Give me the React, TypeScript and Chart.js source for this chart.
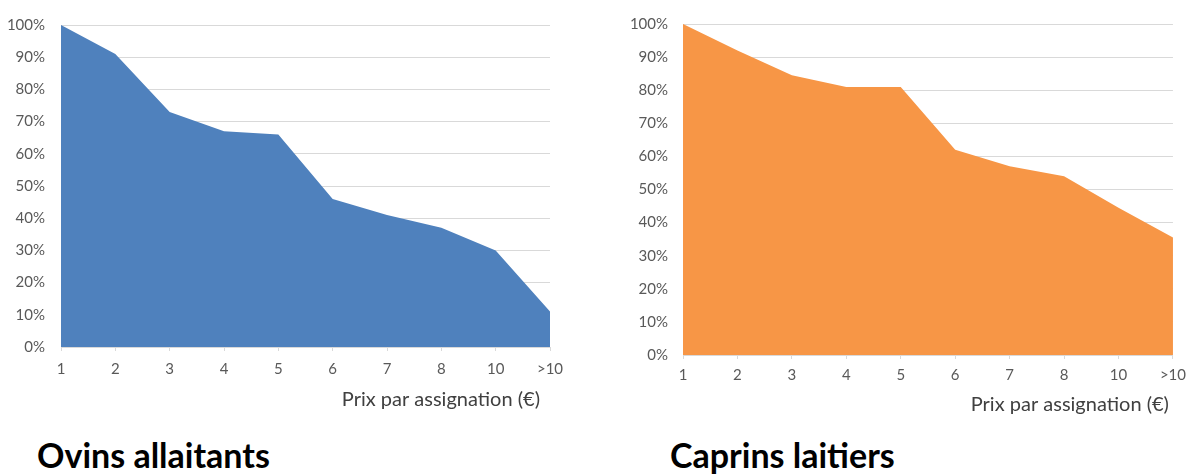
import React, { useEffect, useRef } from 'react';
import { Chart, registerables } from 'chart.js';

Chart.register(...registerables);

const priceLabels = ['1', '2', '3', '4', '5', '6', '7', '8', '10', '>10'];
const ovinsValues = [100, 91, 73, 67, 66, 46, 41, 37, 30, 11];
const caprinsValues = [100, 92, 84.5, 81, 81, 62, 57, 54, 44.5, 35.5];
const axisTitleText = 'Prix par assignation (€)';
const ovinsTitle = 'Ovins allaitants';
const caprinsTitle = 'Caprins laitiers';

const FONT = 'Lato, "Open Sans", sans-serif';

type Layout = {
  left: number;
  width: number;
  height: number;
  padTop: number;
  padRight: number;
  yWidth: number;
  yLabelPad: number;
  xHeight: number;
  xLabelPad: number;
  xTitlePad: number;
  titleShift: number;
};

function AreaChart({ values, color, layout }: { values: number[]; color: string; layout: Layout }) {
  const ref = useRef<HTMLCanvasElement | null>(null);
  useEffect(() => {
    if (!ref.current) return;
    const chart = new Chart(ref.current, {
      type: 'line',
      data: {
        labels: priceLabels,
        datasets: [
          {
            data: values,
            backgroundColor: color,
            borderColor: color,
            borderWidth: 0,
            pointRadius: 0,
            fill: 'origin',
            tension: 0,
          },
        ],
      },
      options: {
        animation: false,
        responsive: false,
        maintainAspectRatio: false,
        layout: { padding: { top: layout.padTop, right: layout.padRight, left: 0, bottom: 0 } },
        plugins: { legend: { display: false }, tooltip: { enabled: false }, title: { display: false } },
        scales: {
          x: {
            offset: false,
            grid: { drawOnChartArea: false, drawTicks: true, tickLength: 4, color: '#D9D9D9' },
            border: { display: true, color: '#D9D9D9' },
            ticks: { color: '#595959', font: { family: FONT, size: 15 }, padding: layout.xLabelPad, maxRotation: 0, autoSkip: false },
            title: {
              display: false,
            },
            afterFit: (s: any) => {
              s.height = layout.xHeight;
            },
          },
          y: {
            min: 0,
            max: 100,
            grid: { color: '#D9D9D9', drawTicks: false, lineWidth: 1 },
            border: { display: false },
            ticks: {
              stepSize: 10,
              color: '#595959',
              font: { family: FONT, size: 15 },
              padding: layout.yLabelPad,
              callback: (v: any) => v + '%',
            },
            afterFit: (s: any) => {
              s.width = layout.yWidth;
            },
          },
        },
      },
      plugins: [
        {
          id: 'xAxisTitle',
          afterDraw: (c: any) => {
            const ctx = c.ctx;
            const xs = c.scales.x;
            ctx.save();
            ctx.font = `20px ${FONT}`;
            ctx.fillStyle = '#404040';
            ctx.textAlign = 'right';
            ctx.textBaseline = 'middle';
            ctx.fillText(axisTitleText, xs.right - layout.titleShift, xs.bottom - layout.xTitlePad);
            ctx.restore();
          },
        },
      ],
    });
    return () => chart.destroy();
  }, [values, color, layout]);
  return (
    <div style={{ position: 'absolute', left: layout.left, top: 0, width: layout.width, height: layout.height }}>
      <canvas ref={ref} width={layout.width} height={layout.height} style={{ width: layout.width, height: layout.height }} />
    </div>
  );
}

const leftLayout: Layout = {
  left: 0,
  width: 600,
  height: 420,
  padTop: 20,
  padRight: 50,
  yWidth: 61,
  yLabelPad: 16,
  xHeight: 73,
  xLabelPad: 9,
  xTitlePad: 20,
  titleShift: 10,
};

const rightLayout: Layout = {
  left: 620,
  width: 573,
  height: 420,
  padTop: 23,
  padRight: 20,
  yWidth: 63,
  yLabelPad: 15,
  xHeight: 65,
  xLabelPad: 7,
  xTitlePad: 15,
  titleShift: 4,
};

const titleStyle: React.CSSProperties = {
  position: 'absolute',
  top: 435,
  fontFamily: FONT,
  fontWeight: 700,
  fontSize: 34,
  lineHeight: '40px',
  color: '#000',
  whiteSpace: 'nowrap',
};

export default function App() {
  return (
    <div style={{ position: 'absolute', left: 0, top: 0, width: 1193, height: 474, background: '#fff', overflow: 'hidden' }}>
      <AreaChart values={ovinsValues} color="#4F81BD" layout={leftLayout} />
      <AreaChart values={caprinsValues} color="#F79646" layout={rightLayout} />
      <div style={{ ...titleStyle, left: 37 }}>{ovinsTitle}</div>
      <div style={{ ...titleStyle, left: 670 }}>{caprinsTitle}</div>
    </div>
  );
}
